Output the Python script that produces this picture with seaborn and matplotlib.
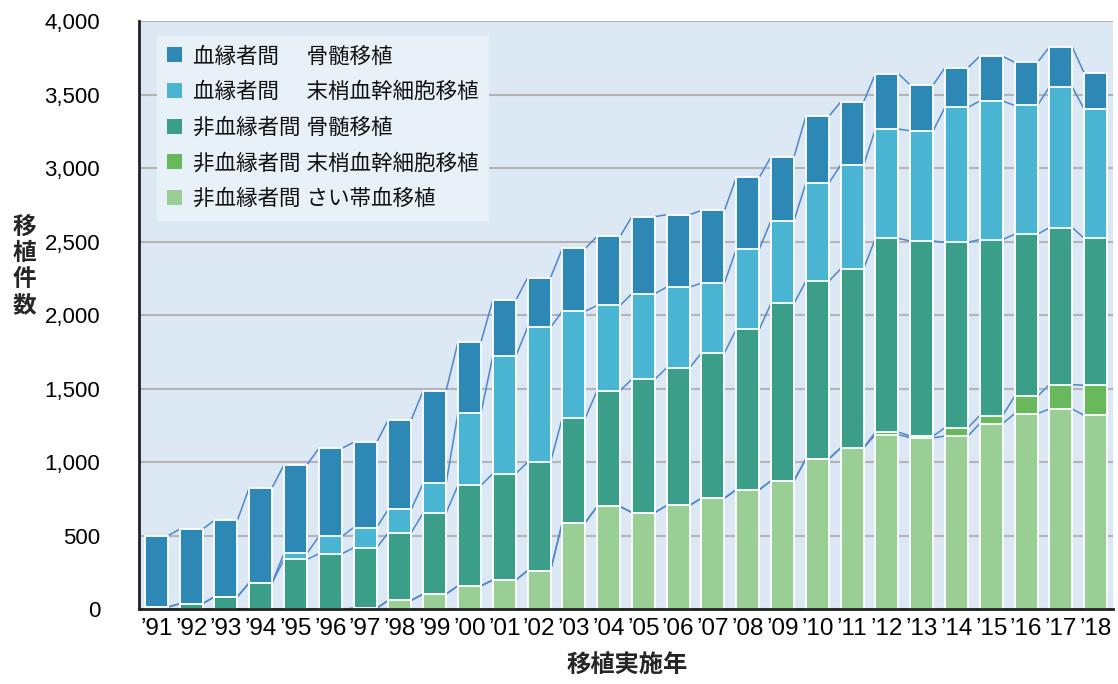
import matplotlib
matplotlib.use("Agg")
import matplotlib.pyplot as plt
import seaborn as sns
import numpy as np
from matplotlib.patches import Patch
from matplotlib.ticker import FuncFormatter, MultipleLocator

# 移植実施年ごとの件数（下から積み上げ順）
years = ["’91", "’92", "’93", "’94", "’95", "’96", "’97", "’98", "’99", "’00",
         "’01", "’02", "’03", "’04", "’05", "’06", "’07", "’08", "’09", "’10",
         "’11", "’12", "’13", "’14", "’15", "’16", "’17", "’18"]
cord = [0, 0, 0, 0, 0, 0, 7, 61, 104, 160,
        198, 263, 590, 699, 658, 706, 756, 813, 874, 1022,
        1097, 1188, 1166, 1178, 1263, 1330, 1362, 1319]
unr_pb = [0, 0, 0, 0, 0, 0, 0, 0, 0, 0,
          0, 0, 0, 0, 0, 0, 0, 0, 0, 0,
          0, 17, 12, 57, 54, 118, 166, 204]
unr_bm = [15, 38, 86, 181, 340, 377, 411, 461, 552, 683,
          724, 737, 711, 788, 906, 936, 988, 1090, 1206, 1208,
          1217, 1317, 1326, 1260, 1197, 1102, 1067, 1000]
rel_pb = [0, 0, 0, 0, 41, 118, 138, 159, 202, 492,
          798, 917, 726, 579, 582, 549, 474, 545, 563, 667,
          706, 743, 750, 918, 942, 876, 956, 878]
rel_bm = [485, 507, 520, 647, 602, 599, 579, 609, 629, 482,
          380, 337, 427, 470, 524, 492, 494, 488, 434, 454,
          429, 377, 311, 270, 304, 293, 271, 246]

labels = ["血縁者間　 骨髄移植", "血縁者間　 末梢血幹細胞移植",
          "非血縁者間 骨髄移植", "非血縁者間 末梢血幹細胞移植",
          "非血縁者間 さい帯血移植"]
colors = ["#2e88b6", "#4ab4d3", "#3a9e89", "#68b85c", "#99cf95"]

sns.set_theme(style="white")
plt.rcParams["font.family"] = ["Liberation Sans", "Noto Sans CJK JP"]

fig = plt.figure(figsize=(11.18, 6.84), dpi=100)
ax = fig.add_axes([139 / 1118, (684 - 609.3) / 684, (1113 - 139) / 1118, (609.3 - 21) / 684])
ax.set_facecolor("#dce8f3")

# 積み上げの各境界（上から順に描いて重ねる）
layers = [cord, unr_pb, unr_bm, rel_pb, rel_bm]
levels = np.cumsum(np.array(layers), axis=0)[::-1]

bar_w = 0.66
for lev, c in zip(levels, colors):
    sns.barplot(x=years, y=lev, color=c, saturation=1, width=bar_w,
                edgecolor="white", linewidth=1.3, errorbar=None, ax=ax, zorder=2)

# 隣り合う棒の境界を結ぶ線
x = np.arange(len(years))
for lev in levels:
    for i in range(len(years) - 1):
        ax.plot([x[i] + bar_w / 2, x[i + 1] - bar_w / 2], [lev[i], lev[i + 1]],
                color="#4f86d0", lw=1.1, zorder=1.5)

ax.set_xlim(-0.5, len(years) - 0.5)
ax.set_ylim(0, 4000)
ax.yaxis.set_major_locator(MultipleLocator(500))
ax.yaxis.set_major_formatter(FuncFormatter(lambda v, p: f"{int(v):,}"))
ax.yaxis.grid(True, color="#b4b4b8", lw=1.5, zorder=0)
ax.set_axisbelow(True)

ax.set_xticks(x)
ax.set_xticks(np.arange(-0.5, len(years), 1), minor=True)
ax.tick_params(axis="x", which="major", length=0, pad=6, labelsize=17.5, labelcolor="black")
ax.tick_params(axis="x", which="minor", length=8, width=1.5, color="#333333", direction="out")
ax.tick_params(axis="y", length=9, width=1.5, color="#444444", pad=19, labelsize=16,
               labelcolor="black")
for t in ax.get_xticklabels():
    t.set_family(["Liberation Sans Narrow", "Liberation Sans"])
ax.set_xlabel("")
ax.set_ylabel("")

for s in ["top", "right"]:
    ax.spines[s].set_visible(False)
for s in ["left", "bottom"]:
    ax.spines[s].set_color("#222222")
    ax.spines[s].set_linewidth(2)

handles = [Patch(facecolor=c, edgecolor="none") for c in colors]
leg = ax.legend(handles, labels, loc="upper left", bbox_to_anchor=(0.018, 0.975),
                frameon=True, fancybox=False, framealpha=1, facecolor="#e8f1f8",
                edgecolor="none", fontsize=15.5, handlelength=0.7, handleheight=0.7,
                handletextpad=0.5, labelspacing=0.68, borderpad=0.5, borderaxespad=0)
for t in leg.get_texts():
    t.set_color("#111111")

fig.text(24 / 1118, 1 - 266 / 684, "移\n植\n件\n数", ha="center", va="center",
         fontsize=17, fontweight="bold", linespacing=1.1, family="Noto Sans CJK JP")
fig.text(627 / 1118, 1 - 665 / 684, "移植実施年", ha="center", va="center",
         fontsize=17.5, fontweight="bold", family="Noto Sans CJK JP")

fig.savefig("out.png", dpi=100)
